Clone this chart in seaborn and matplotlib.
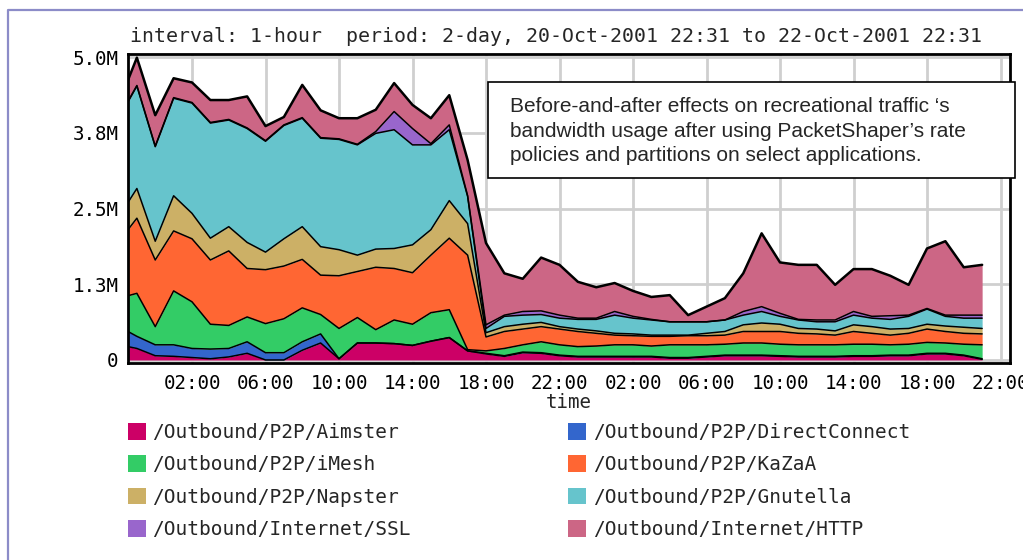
import pandas as pd
import seaborn as sns
import matplotlib.pyplot as plt
import matplotlib.dates as mdates
from matplotlib.patches import Patch, Rectangle
from matplotlib.lines import Line2D

sns.set_theme(style='white')
plt.rcParams['font.family'] = ['DejaVu Sans Mono']

# sample times: start of the period, then every full hour (values in Mbps)
times = [pd.Timestamp('2001-10-20 22:31')] + list(pd.date_range('2001-10-20 23:00', '2001-10-22 21:00', freq='h'))

names = ['/Outbound/P2P/Aimster', '/Outbound/P2P/DirectConnect', '/Outbound/P2P/iMesh',
         '/Outbound/P2P/KaZaA', '/Outbound/P2P/Napster', '/Outbound/P2P/Gnutella',
         '/Outbound/Internet/SSL', '/Outbound/Internet/HTTP']
colors = ['#cc0066', '#3366cc', '#33cc66', '#ff6633', '#ccb066', '#66c4cc', '#9966cc', '#cc6685']

aimster = [0.22, 0.19, 0.07, 0.06, 0.04, 0.02, 0.05, 0.11, 0.00, 0.00, 0.16, 0.28, 0.02, 0.28, 0.28, 0.27,
           0.24, 0.31, 0.37, 0.15, 0.10, 0.06, 0.12, 0.11, 0.07, 0.05, 0.05, 0.05, 0.05, 0.05, 0.03, 0.03,
           0.05, 0.07, 0.07, 0.07, 0.06, 0.05, 0.05, 0.05, 0.06, 0.06, 0.07, 0.07, 0.10, 0.10, 0.07, 0.01]
directconnect = [0.25, 0.20, 0.18, 0.19, 0.15, 0.16, 0.14, 0.19, 0.12, 0.12, 0.14, 0.15, 0.00, 0.00, 0.00, 0.00,
                 0.00, 0.00, 0.00, 0.00, 0.01, 0.01, 0.01, 0.01, 0.01, 0.01, 0.01, 0.01, 0.01, 0.01, 0.01, 0.01,
                 0.01, 0.01, 0.01, 0.01, 0.01, 0.01, 0.01, 0.01, 0.01, 0.01, 0.01, 0.01, 0.01, 0.01, 0.01, 0.01]
imesh = [0.59, 0.71, 0.30, 0.89, 0.77, 0.41, 0.38, 0.41, 0.48, 0.56, 0.56, 0.32, 0.50, 0.42, 0.22, 0.39,
         0.35, 0.47, 0.46, 0.02, 0.04, 0.12, 0.12, 0.18, 0.17, 0.16, 0.17, 0.19, 0.19, 0.17, 0.21, 0.21,
         0.19, 0.18, 0.20, 0.20, 0.19, 0.19, 0.19, 0.19, 0.19, 0.19, 0.17, 0.18, 0.18, 0.17, 0.18, 0.23]
kazaa = [1.09, 1.24, 1.10, 0.99, 1.04, 1.06, 1.23, 0.80, 0.89, 0.87, 0.80, 0.65, 0.87, 0.76, 1.03, 0.85,
         0.85, 0.95, 1.18, 1.56, 0.23, 0.28, 0.26, 0.25, 0.26, 0.25, 0.21, 0.16, 0.15, 0.16, 0.14, 0.15,
         0.15, 0.15, 0.19, 0.19, 0.21, 0.19, 0.18, 0.16, 0.21, 0.18, 0.16, 0.18, 0.22, 0.19, 0.18, 0.18]
napster = [0.45, 0.49, 0.31, 0.58, 0.42, 0.36, 0.40, 0.43, 0.29, 0.45, 0.54, 0.47, 0.43, 0.27, 0.30, 0.33,
           0.46, 0.42, 0.62, 0.52, 0.07, 0.08, 0.08, 0.07, 0.04, 0.04, 0.04, 0.03, 0.03, 0.02, 0.02, 0.01,
           0.04, 0.06, 0.11, 0.14, 0.12, 0.08, 0.08, 0.07, 0.11, 0.11, 0.10, 0.08, 0.08, 0.09, 0.10, 0.09]
gnutella = [1.66, 1.69, 1.56, 1.61, 1.82, 1.90, 1.76, 1.88, 1.83, 1.87, 1.79, 1.79, 1.82, 1.82, 1.91, 1.96,
            1.65, 1.40, 1.17, 0.45, 0.07, 0.17, 0.15, 0.13, 0.14, 0.16, 0.19, 0.30, 0.26, 0.25, 0.22, 0.22,
            0.19, 0.19, 0.16, 0.19, 0.13, 0.14, 0.12, 0.15, 0.16, 0.14, 0.16, 0.20, 0.25, 0.16, 0.15, 0.17]
ssl = [0.01, 0.01, 0.01, 0.01, 0.01, 0.01, 0.01, 0.01, 0.01, 0.01, 0.01, 0.01, 0.01, 0.01, 0.03, 0.30,
       0.27, 0.02, 0.08, 0.01, 0.06, 0.02, 0.06, 0.06, 0.05, 0.02, 0.02, 0.06, 0.03, 0.01, 0.00, 0.00,
       0.00, 0.00, 0.06, 0.08, 0.05, 0.01, 0.03, 0.03, 0.06, 0.03, 0.06, 0.02, 0.01, 0.02, 0.05, 0.05]
http = [0.35, 0.46, 0.51, 0.32, 0.33, 0.37, 0.32, 0.52, 0.24, 0.13, 0.54, 0.45, 0.34, 0.43, 0.36, 0.47,
        0.39, 0.42, 0.49, 0.59, 1.35, 0.69, 0.54, 0.88, 0.83, 0.60, 0.51, 0.47, 0.42, 0.37, 0.44, 0.11,
        0.25, 0.36, 0.63, 1.21, 0.84, 0.90, 0.91, 0.58, 0.70, 0.78, 0.66, 0.50, 0.99, 1.22, 0.79, 0.83]

df = pd.DataFrame(dict(zip(names, [aimster, directconnect, imesh, kazaa, napster, gnutella, ssl, http])),
                  index=times)
cum = df.cumsum(axis=1)

fig = plt.figure(figsize=(10.23, 5.6), dpi=100)
ax = fig.add_axes([128 / 1023, 1 - 363 / 560, 882 / 1023, 309 / 560])

ax.stackplot(df.index, *[df[n] for n in names], colors=colors, linewidth=0, zorder=2)
for i, n in enumerate(names):
    sns.lineplot(x=df.index, y=cum[n].values, ax=ax, color='black',
                 lw=1.8 if i == len(names) - 1 else 1.1, zorder=3)

ax.set_xlim(pd.Timestamp('2001-10-20 22:31'), pd.Timestamp('2001-10-22 22:31'))
ax.set_ylim(-0.05, 5.05)
ax.set_yticks([0, 1.25, 2.5, 3.75, 5.0])
ax.set_yticklabels(['0', '1.3M', '2.5M', '3.8M', '5.0M'])
ax.xaxis.set_major_locator(mdates.HourLocator(byhour=[2, 6, 10, 14, 18, 22]))
ax.xaxis.set_major_formatter(mdates.DateFormatter('%H:%M'))
ax.tick_params(axis='both', length=0, labelsize=13.8, colors='black')
ax.tick_params(axis='y', pad=7)
ax.tick_params(axis='x', pad=8)
ax.set_ylabel('')
ax.set_xlabel('time', fontsize=13.8, labelpad=0)
ax.grid(True, color='#cfcfcf', lw=2)
ax.set_axisbelow(True)
for s in ax.spines.values():
    s.set_color('black')
    s.set_linewidth(2)

fig.text(130 / 1023, 1 - 37 / 560,
         'interval: 1-hour  period: 2-day, 20-Oct-2001 22:31 to 22-Oct-2001 22:31',
         ha='left', va='center', fontsize=14.3)

# outer frame of the report page
fig.add_artist(Line2D([8 / 1023, 8 / 1023, 1], [0, 1 - 10 / 560, 1 - 10 / 560],
                      transform=fig.transFigure, color='#8c8cc8', lw=1.6))

# annotation box
fig.add_artist(Rectangle((488 / 1023, 1 - 178 / 560), 527 / 1023, 96 / 560, transform=fig.transFigure,
                         facecolor='white', edgecolor='black', lw=1.2, zorder=10))
fig.text(510 / 1023, 1 - 97 / 560,
         'Before-and-after effects on recreational traffic \u2018s\n'
         'bandwidth usage after using PacketShaper\u2019s rate\n'
         'policies and partitions on select applications.',
         ha='left', va='top', fontsize=15, family=['Liberation Sans', 'DejaVu Sans'],
         linespacing=1.37, zorder=11)

order = [0, 2, 4, 6, 1, 3, 5, 7]
handles = [Patch(facecolor=colors[i], edgecolor='none') for i in order]
labels = [names[i] for i in order]
fig.legend(handles, labels, ncol=2, loc='upper left', bbox_to_anchor=(128 / 1023, 1 - 423 / 560),
           frameon=False, fontsize=14, handlelength=0.93, handleheight=0.93, handletextpad=0.32,
           columnspacing=8.1, labelspacing=0.69, borderpad=0, borderaxespad=0)

fig.savefig('out.png', dpi=100)
